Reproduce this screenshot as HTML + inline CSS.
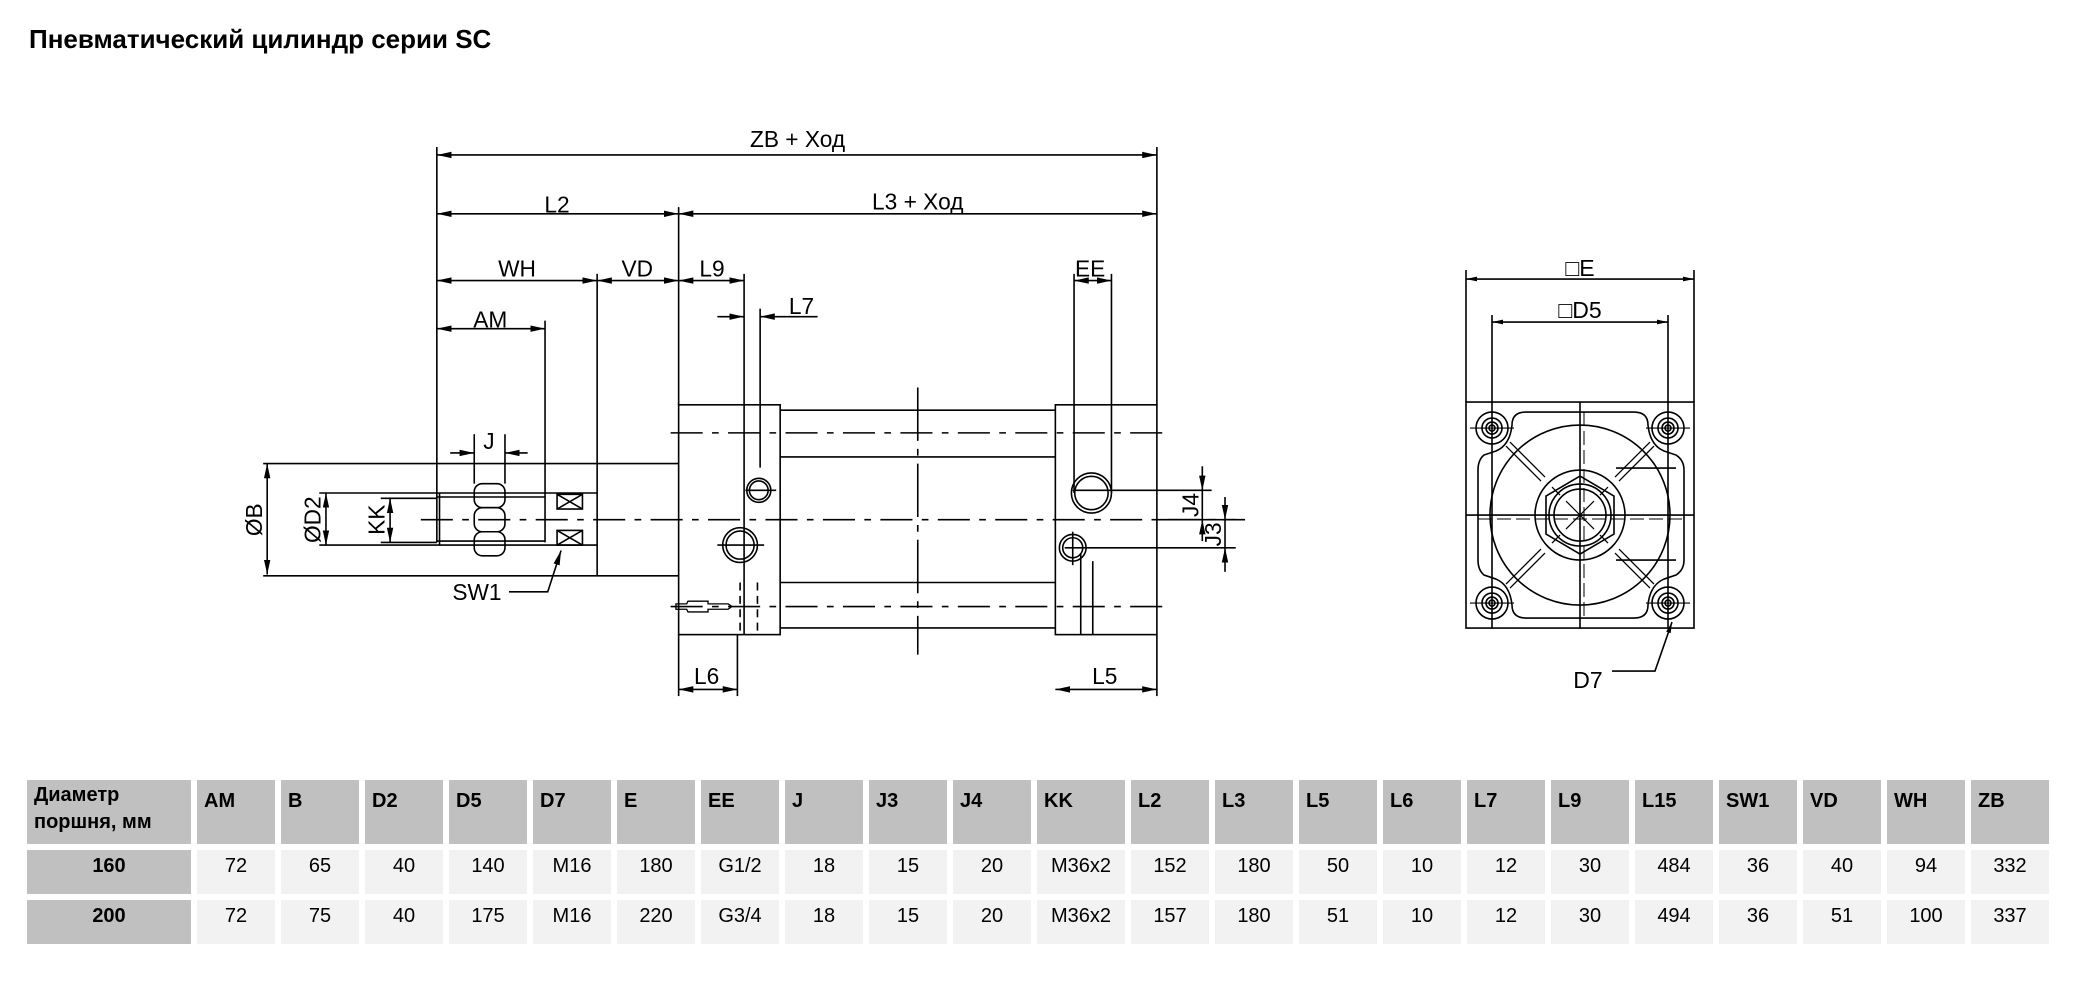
<!DOCTYPE html>
<html><head><meta charset="utf-8"><style>
html,body{margin:0;padding:0;background:#fff;}
body{width:2084px;height:990px;position:relative;overflow:hidden;font-family:"Liberation Sans",sans-serif;}
.title{position:absolute;left:29px;top:24px;font-weight:bold;font-size:26px;color:#000;white-space:nowrap;}
svg{position:absolute;left:0;top:0;}
table{position:absolute;left:21px;top:774px;border-collapse:separate;border-spacing:6px 6px;table-layout:fixed;font-size:20px;}
td{padding:0;overflow:hidden;white-space:nowrap;}
.h td{background:#c0c0c0;font-weight:bold;height:64px;vertical-align:top;padding:8px 0 0 7px;box-sizing:border-box;line-height:27px;}
.r td{background:#f2f2f2;height:44px;text-align:center;vertical-align:top;padding-top:5px;box-sizing:border-box;}
.r td.f{background:#c0c0c0;font-weight:bold;}
</style></head><body>
<div class="title">Пневматический цилиндр серии SC</div>
<svg width="2084" height="990" viewBox="0 0 1560 741" preserveAspectRatio="none" xmlns="http://www.w3.org/2000/svg">
<defs>
<marker id="a" markerUnits="userSpaceOnUse" markerWidth="11" markerHeight="6" refX="11" refY="3" orient="auto-start-reverse"><path d="M0,0.6 L11,3 L0,5.4 z" fill="#000"/></marker>
</defs>
<g transform="translate(-3,0)">
<g stroke="#000" stroke-width="1.2" fill="none">
<g marker-start="url(#a)" marker-end="url(#a)">
<line x1="330" y1="116" x2="869" y2="116"/>
<line x1="330" y1="160" x2="511" y2="160"/>
<line x1="511" y1="160" x2="869" y2="160"/>
<line x1="330" y1="210" x2="450" y2="210"/>
<line x1="450" y1="210" x2="511" y2="210"/>
<line x1="511" y1="210" x2="560" y2="210"/>
<line x1="807" y1="210" x2="835" y2="210"/>
<line x1="330" y1="246" x2="411" y2="246"/>
<line x1="203" y1="347" x2="203" y2="430"/>
<line x1="247" y1="369" x2="247" y2="408"/>
<line x1="295" y1="373" x2="295" y2="406"/>
<line x1="511" y1="516" x2="555" y2="516"/>
<line x1="793" y1="516" x2="869" y2="516"/>
</g>
<g marker-end="url(#a)">
<line x1="540" y1="237" x2="560" y2="237"/>
<line x1="615" y1="237" x2="572" y2="237"/>
<line x1="340" y1="339" x2="358" y2="339"/>
<line x1="398" y1="339" x2="381" y2="339"/>
<line x1="903" y1="349" x2="903" y2="367"/>
<line x1="903" y1="405" x2="903" y2="389"/>
<line x1="920" y1="372" x2="920" y2="389"/>
<line x1="920" y1="428" x2="920" y2="410"/>
</g>
<line x1="903" y1="367" x2="903" y2="389"/>
<line x1="920" y1="389" x2="920" y2="410"/>
<line x1="330" y1="110" x2="330" y2="406"/>
<line x1="869" y1="110" x2="869" y2="303"/>
<line x1="869" y1="475" x2="869" y2="521"/>
<line x1="511" y1="155" x2="511" y2="303"/>
<line x1="511" y1="475" x2="511" y2="521"/>
<line x1="450" y1="205" x2="450" y2="431"/>
<line x1="560" y1="205" x2="560" y2="475"/>
<line x1="572" y1="231" x2="572" y2="350"/>
<line x1="555" y1="475" x2="555" y2="521"/>
<line x1="411" y1="240" x2="411" y2="406"/>
<line x1="807" y1="205" x2="807" y2="369"/>
<line x1="835" y1="205" x2="835" y2="369"/>
<line x1="200" y1="347" x2="511" y2="347"/>
<line x1="200" y1="431" x2="511" y2="431"/>
<line x1="242" y1="369" x2="450" y2="369"/>
<line x1="242" y1="408" x2="450" y2="408"/>
<line x1="288" y1="373" x2="330" y2="373"/>
<line x1="288" y1="406" x2="330" y2="406"/>
<line x1="330" y1="372" x2="411" y2="372"/>
<line x1="330" y1="405" x2="411" y2="405"/>
<line x1="332" y1="369" x2="332" y2="408"/>
<line x1="358" y1="325" x2="358" y2="362"/>
<line x1="381" y1="325" x2="381" y2="362"/>
<line x1="806" y1="367" x2="910" y2="367"/>
<line x1="800" y1="410" x2="928" y2="410"/>
<line x1="869" y1="389" x2="928" y2="389"/>
<rect x="358" y="362" width="23" height="18" rx="6"/>
<rect x="358" y="380" width="23" height="18" rx="6"/>
<rect x="358" y="398" width="23" height="18" rx="6"/>
<rect x="420" y="370" width="19" height="11"/><path d="M420,370 L439,381 M439,370 L420,381"/>
<rect x="420" y="397" width="19" height="11"/><path d="M420,397 L439,408 M439,397 L420,408"/>
<polyline points="384,443 413,443 423,412" marker-end="url(#a)"/>
<rect x="511" y="303" width="76" height="172"/>
<rect x="793" y="303" width="76" height="172"/>
<line x1="587" y1="307" x2="793" y2="307"/>
<line x1="587" y1="342" x2="793" y2="342"/>
<line x1="587" y1="436" x2="793" y2="436"/>
<line x1="587" y1="470" x2="793" y2="470"/>
<line x1="318" y1="389" x2="935" y2="389" stroke-dasharray="24 7 5 7"/>
<line x1="505" y1="324" x2="876" y2="324" stroke-dasharray="24 7 5 7"/>
<line x1="505" y1="454" x2="876" y2="454" stroke-dasharray="24 7 5 7"/>
<line x1="690" y1="290" x2="690" y2="490" stroke-dasharray="40 6 5 6"/>
<line x1="557" y1="436" x2="557" y2="475" stroke-dasharray="6 4"/>
<line x1="570" y1="436" x2="570" y2="475" stroke-dasharray="6 4"/>
<line x1="812" y1="414" x2="812" y2="475"/>
<line x1="821" y1="420" x2="821" y2="475"/>
<circle cx="571" cy="367" r="9"/><circle cx="571" cy="367" r="7"/>
<line x1="561" y1="367" x2="584" y2="367"/>
<circle cx="557" cy="408" r="13"/><circle cx="557" cy="408" r="10.5"/>
<line x1="540" y1="408" x2="575" y2="408"/>
<circle cx="820" cy="369" r="15"/><circle cx="820" cy="369" r="12.5"/>
<circle cx="806" cy="410" r="10"/><circle cx="806" cy="410" r="7.5"/>
<line x1="806" y1="398" x2="806" y2="423"/>
<path d="M509,452 L517,452 L518,450 L533,450 L533,452 L548,452 L551,454 L548,456 L533,456 L533,458 L518,458 L517,456 L509,456 Z" stroke-width="1"/>
</g>
<g font-family="Liberation Sans, sans-serif" font-size="17" fill="#000" text-anchor="middle">
<text x="600" y="110">ZB + Ход</text>
<text x="420" y="159">L2</text>
<text x="690" y="157">L3 + Ход</text>
<text x="390" y="207">WH</text>
<text x="480" y="207">VD</text>
<text x="536" y="207">L9</text>
<text x="819" y="207">EE</text>
<text x="603" y="235">L7</text>
<text x="370" y="245">AM</text>
<text x="369" y="336">J</text>
<text x="360" y="449">SW1</text>
<text x="532" y="512">L6</text>
<text x="830" y="512">L5</text>
<text transform="translate(199,389) rotate(-90)">ØB</text>
<text transform="translate(243,389) rotate(-90)">ØD2</text>
<text transform="translate(291,389) rotate(-90)">KK</text>
<text transform="translate(900,378) rotate(-90)">J4</text>
<text transform="translate(917,400) rotate(-90)">J3</text>
</g>
</g>
<g transform="scale(0.74856)">
<g stroke="#000" stroke-width="1.6" fill="none">
<g marker-start="url(#a)" marker-end="url(#a)">
<line x1="1466" y1="279" x2="1694" y2="279"/>
<line x1="1492" y1="322" x2="1668" y2="322"/>
</g>
<line x1="1466" y1="270" x2="1466" y2="402"/>
<line x1="1694" y1="270" x2="1694" y2="402"/>
<line x1="1492" y1="315" x2="1492" y2="628"/>
<line x1="1668" y1="315" x2="1668" y2="628"/>
<rect x="1466" y="402" width="228" height="226"/>
<path d="M1526,412 L1634,412 Q1648,412 1648,425 Q1650,445 1664,451 L1676,455 Q1684,460 1684,470 L1684,560 Q1684,570 1676,575 L1664,579 Q1650,585 1648,605 Q1648,618 1634,618 L1526,618 Q1512,618 1512,605 Q1510,585 1496,579 L1484,575 Q1478,570 1478,560 L1478,470 Q1478,460 1484,455 L1496,451 Q1510,445 1512,425 Q1512,412 1526,412 Z"/>
<path d="M1616,468 L1676,468 M1616,560 L1676,560"/>
<circle cx="1580" cy="515" r="90"/>
<circle cx="1580" cy="515" r="45"/>
<polygon points="1580,476 1614,496 1614,534 1580,554 1546,534 1546,496"/>
<circle cx="1580" cy="515" r="31"/>
<circle cx="1580" cy="515" r="26"/>
<line x1="1580" y1="402" x2="1580" y2="628"/>
<line x1="1466" y1="515" x2="1694" y2="515"/>
<line x1="1584" y1="412" x2="1584" y2="618" stroke-dasharray="14 5" stroke-width="1"/>
<line x1="1478" y1="519" x2="1684" y2="519" stroke-dasharray="14 5" stroke-width="1"/>
<path d="M1566,501 L1594,529 M1594,501 L1566,529" stroke-width="1.2"/>
<g stroke-width="1.3">
<path d="M1545,477 L1510,442 M1541,481 L1506,446"/>
<path d="M1615,477 L1650,442 M1619,481 L1654,446"/>
<path d="M1545,553 L1510,588 M1541,549 L1506,584"/>
<path d="M1615,553 L1650,588 M1619,549 L1654,584"/>
<path d="M1560,495 L1552,487 M1600,495 L1608,487 M1560,535 L1552,543 M1600,535 L1608,543"/>
</g>
<g>
<circle cx="1492" cy="428" r="16"/><circle cx="1492" cy="428" r="10"/><circle cx="1492" cy="428" r="6"/><circle cx="1492" cy="428" r="3"/>
<circle cx="1668" cy="428" r="16"/><circle cx="1668" cy="428" r="10"/><circle cx="1668" cy="428" r="6"/><circle cx="1668" cy="428" r="3"/>
<circle cx="1492" cy="603" r="16"/><circle cx="1492" cy="603" r="10"/><circle cx="1492" cy="603" r="6"/><circle cx="1492" cy="603" r="3"/>
<circle cx="1668" cy="603" r="16"/><circle cx="1668" cy="603" r="10"/><circle cx="1668" cy="603" r="6"/><circle cx="1668" cy="603" r="3"/>
<path d="M1470,428 L1514,428 M1646,428 L1690,428 M1470,603 L1514,603 M1646,603 L1690,603" stroke-width="1.1"/>
</g>
<polyline points="1612,671 1655,671 1672,622" marker-end="url(#a)"/>
</g>
<g font-family="Liberation Sans, sans-serif" font-size="23" fill="#000" text-anchor="middle">
<text x="1580" y="276">□E</text>
<text x="1580" y="318">□D5</text>
<text x="1588" y="688">D7</text>
</g>
</g>
</svg>
<table>
<colgroup><col style="width:164px"><col style="width:78px"><col style="width:78px"><col style="width:78px"><col style="width:78px"><col style="width:78px"><col style="width:78px"><col style="width:78px"><col style="width:78px"><col style="width:78px"><col style="width:78px"><col style="width:88px"><col style="width:78px"><col style="width:78px"><col style="width:78px"><col style="width:78px"><col style="width:78px"><col style="width:78px"><col style="width:78px"><col style="width:78px"><col style="width:78px"><col style="width:78px"><col style="width:78px"></colgroup>
<tr class="h"><td style="padding-top:2px">Диаметр<br>поршня, мм</td><td>AM</td><td>B</td><td>D2</td><td>D5</td><td>D7</td><td>E</td><td>EE</td><td>J</td><td>J3</td><td>J4</td><td>KK</td><td>L2</td><td>L3</td><td>L5</td><td>L6</td><td>L7</td><td>L9</td><td>L15</td><td>SW1</td><td>VD</td><td>WH</td><td>ZB</td></tr>
<tr class="r"><td class="f">160</td><td>72</td><td>65</td><td>40</td><td>140</td><td>M16</td><td>180</td><td>G1/2</td><td>18</td><td>15</td><td>20</td><td>M36x2</td><td>152</td><td>180</td><td>50</td><td>10</td><td>12</td><td>30</td><td>484</td><td>36</td><td>40</td><td>94</td><td>332</td></tr>
<tr class="r"><td class="f">200</td><td>72</td><td>75</td><td>40</td><td>175</td><td>M16</td><td>220</td><td>G3/4</td><td>18</td><td>15</td><td>20</td><td>M36x2</td><td>157</td><td>180</td><td>51</td><td>10</td><td>12</td><td>30</td><td>494</td><td>36</td><td>51</td><td>100</td><td>337</td></tr>
</table>
</body></html>
